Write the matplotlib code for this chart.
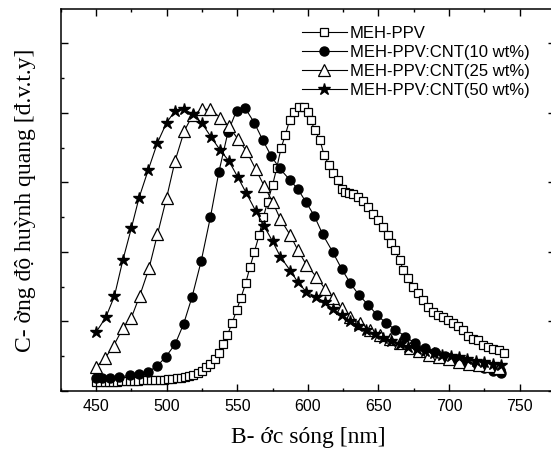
import matplotlib
matplotlib.use("Agg")
import matplotlib.pyplot as plt
from matplotlib.ticker import MultipleLocator, NullFormatter

# MEH-PPV
wl_pure = [450, 453, 456, 459, 462, 465, 468, 471, 474, 477, 480, 483, 486, 489, 492, 495,
           498, 501, 504, 507, 510, 513, 516, 519, 522, 525, 528, 531, 534, 537, 540, 543,
           546.5, 549.5, 552.5, 556, 559, 562, 565.5, 568.5, 571.5, 575, 578, 581, 584, 587,
           590, 593.5, 597, 600, 602, 605, 608.5, 611.5, 615, 618, 621, 624, 626, 629, 632,
           635.5, 639, 642.5, 646, 650, 653, 656.5, 659, 662, 665, 667.5, 671, 674.5, 678,
           681.5, 685, 688.5, 692, 696, 699, 703, 706.5, 710, 713.5, 717, 720.5, 724, 727.5,
           731, 735, 739]
pl_pure = [0.13, 0.13, 0.13, 0.13, 0.13, 0.13, 0.14, 0.14, 0.14, 0.14, 0.14, 0.15, 0.15, 0.15,
           0.15, 0.16, 0.16, 0.17, 0.17, 0.18, 0.19, 0.20, 0.21, 0.23, 0.25, 0.29, 0.34, 0.39,
           0.45, 0.54, 0.67, 0.80, 0.98, 1.16, 1.33, 1.55, 1.78, 1.99, 2.24, 2.50, 2.72, 2.96,
           3.21, 3.49, 3.68, 3.89, 4.01, 4.09, 4.09, 4.01, 3.89, 3.75, 3.61, 3.39, 3.25, 3.13,
           3.03, 2.91, 2.86, 2.85, 2.83, 2.79, 2.73, 2.65, 2.55, 2.46, 2.36, 2.24, 2.12, 2.02,
           1.88, 1.74, 1.62, 1.50, 1.40, 1.31, 1.21, 1.14, 1.09, 1.06, 1.02, 0.97, 0.93, 0.87,
           0.79, 0.75, 0.73, 0.66, 0.63, 0.60, 0.58, 0.54]

# MEH-PPV:CNT 10 wt%
wl_10 = [450, 454, 460, 466.5, 474, 480.5, 487, 493.5, 499.5, 506, 512, 518, 524.5, 531, 537,
         543.5, 549.5, 555.5, 562, 568, 574, 580, 587, 593, 598.5, 604.5, 610.5, 617.5, 624,
         630, 636, 642.5, 649, 655.5, 662, 669, 676, 683, 690, 697, 704, 711, 718, 725, 731, 737]
pl_10 = [0.19, 0.19, 0.19, 0.20, 0.22, 0.24, 0.27, 0.36, 0.49, 0.67, 0.96, 1.35, 1.87, 2.50,
         3.15, 3.73, 4.03, 4.07, 3.86, 3.61, 3.38, 3.20, 3.04, 2.90, 2.72, 2.52, 2.25, 2.00,
         1.75, 1.55, 1.38, 1.24, 1.09, 0.97, 0.88, 0.78, 0.68, 0.61, 0.56, 0.50, 0.45, 0.40,
         0.36, 0.32, 0.29, 0.26]

# MEH-PPV:CNT 25 wt%
wl_25 = [450, 456.5, 462.5, 469, 475, 481, 487.5, 493.5, 500, 506, 512.5, 518.5, 525, 531, 538,
         544, 550.5, 556.5, 563, 569, 575, 580.5, 587.5, 593, 599, 606, 612, 618, 624, 630, 637,
         644, 651, 658, 665, 672, 679, 686, 693, 700, 707, 714, 721, 728, 735]
pl_25 = [0.34, 0.47, 0.65, 0.90, 1.05, 1.37, 1.76, 2.25, 2.78, 3.31, 3.74, 3.97, 4.05, 4.05,
         3.93, 3.81, 3.62, 3.45, 3.19, 2.95, 2.72, 2.47, 2.24, 2.02, 1.81, 1.64, 1.47, 1.33,
         1.19, 1.06, 0.97, 0.88, 0.80, 0.74, 0.68, 0.62, 0.57, 0.52, 0.48, 0.45, 0.42, 0.39,
         0.37, 0.35, 0.33]

# MEH-PPV:CNT 50 wt%
wl_50 = [450, 457, 463, 469, 475, 480.5, 487, 493.5, 500, 506, 512.5, 518.5, 525, 531.5, 538,
         544, 550.5, 556.5, 563, 569, 575, 580.5, 587.5, 593, 599, 606, 612, 618, 624, 630,
         635.5, 641.5, 647.5, 653, 659, 665, 671, 677, 683, 689, 695, 701, 707, 713, 719, 725,
         731, 737]
pl_50 = [0.84, 1.06, 1.36, 1.88, 2.34, 2.78, 3.18, 3.57, 3.86, 4.03, 4.05, 3.98, 3.85, 3.65,
         3.46, 3.31, 3.07, 2.84, 2.59, 2.37, 2.15, 1.93, 1.73, 1.56, 1.42, 1.35, 1.27, 1.17,
         1.09, 1.01, 0.93, 0.87, 0.82, 0.76, 0.72, 0.67, 0.63, 0.60, 0.57, 0.54, 0.52, 0.50,
         0.48, 0.45, 0.43, 0.41, 0.39, 0.37]

labels = ["MEH-PPV", "MEH-PPV:CNT(10 wt%)", "MEH-PPV:CNT(25 wt%)", "MEH-PPV:CNT(50 wt%)"]

fig = plt.figure(figsize=(5.51, 4.55), dpi=100)
ax = fig.add_axes([0.1102, 0.1413, 0.8971, 0.8382])

ax.plot(wl_pure, pl_pure, color="black", lw=0.8, marker="s", ms=6, mfc="white", mec="black",
        mew=0.9, label=labels[0])
ax.plot(wl_10, pl_10, color="black", lw=0.8, marker="o", ms=6.5, mfc="black", mec="black",
        label=labels[1])
ax.plot(wl_25, pl_25, color="black", lw=0.8, marker="^", ms=8, mfc="white", mec="black",
        mew=0.9, label=labels[2])
ax.plot(wl_50, pl_50, color="black", lw=0.8, marker="*", ms=9, mfc="black", mec="black",
        label=labels[3])

ax.set_xlim(425, 775)
ax.set_ylim(0, 5.49)
ax.xaxis.set_major_locator(MultipleLocator(50))
ax.xaxis.set_minor_locator(MultipleLocator(25))
ax.yaxis.set_major_locator(MultipleLocator(1))
ax.yaxis.set_minor_locator(MultipleLocator(0.5))
ax.yaxis.set_major_formatter(NullFormatter())
ax.tick_params(which="both", direction="in", top=True, right=True, width=1)
ax.tick_params(which="major", length=4.8)
ax.tick_params(which="minor", length=2.5)
ax.tick_params(axis="x", labelsize=11.5, pad=6)
for lbl in ax.get_xticklabels():
    lbl.set_family("Liberation Sans")
for s in ax.spines.values():
    s.set_linewidth(1.1)
# the right frame edge falls just outside the picture
ax.spines["right"].set_visible(False)

ax.set_xlabel("B- ớc sóng [nm]", family="Liberation Serif", fontsize=17, labelpad=9)
ax.set_ylabel("C- ờng độ huỳnh quang [đ.v.t.y]", family="Liberation Serif", fontsize=17,
              labelpad=14)

ax.legend(loc="upper left", bbox_to_anchor=(0.4876, 0.956), frameon=False,
          prop={"family": "Liberation Sans", "size": 12}, handlelength=2.7,
          handletextpad=0.18, labelspacing=0.24, borderpad=0, borderaxespad=0)

fig.savefig("out.png", dpi=100)
